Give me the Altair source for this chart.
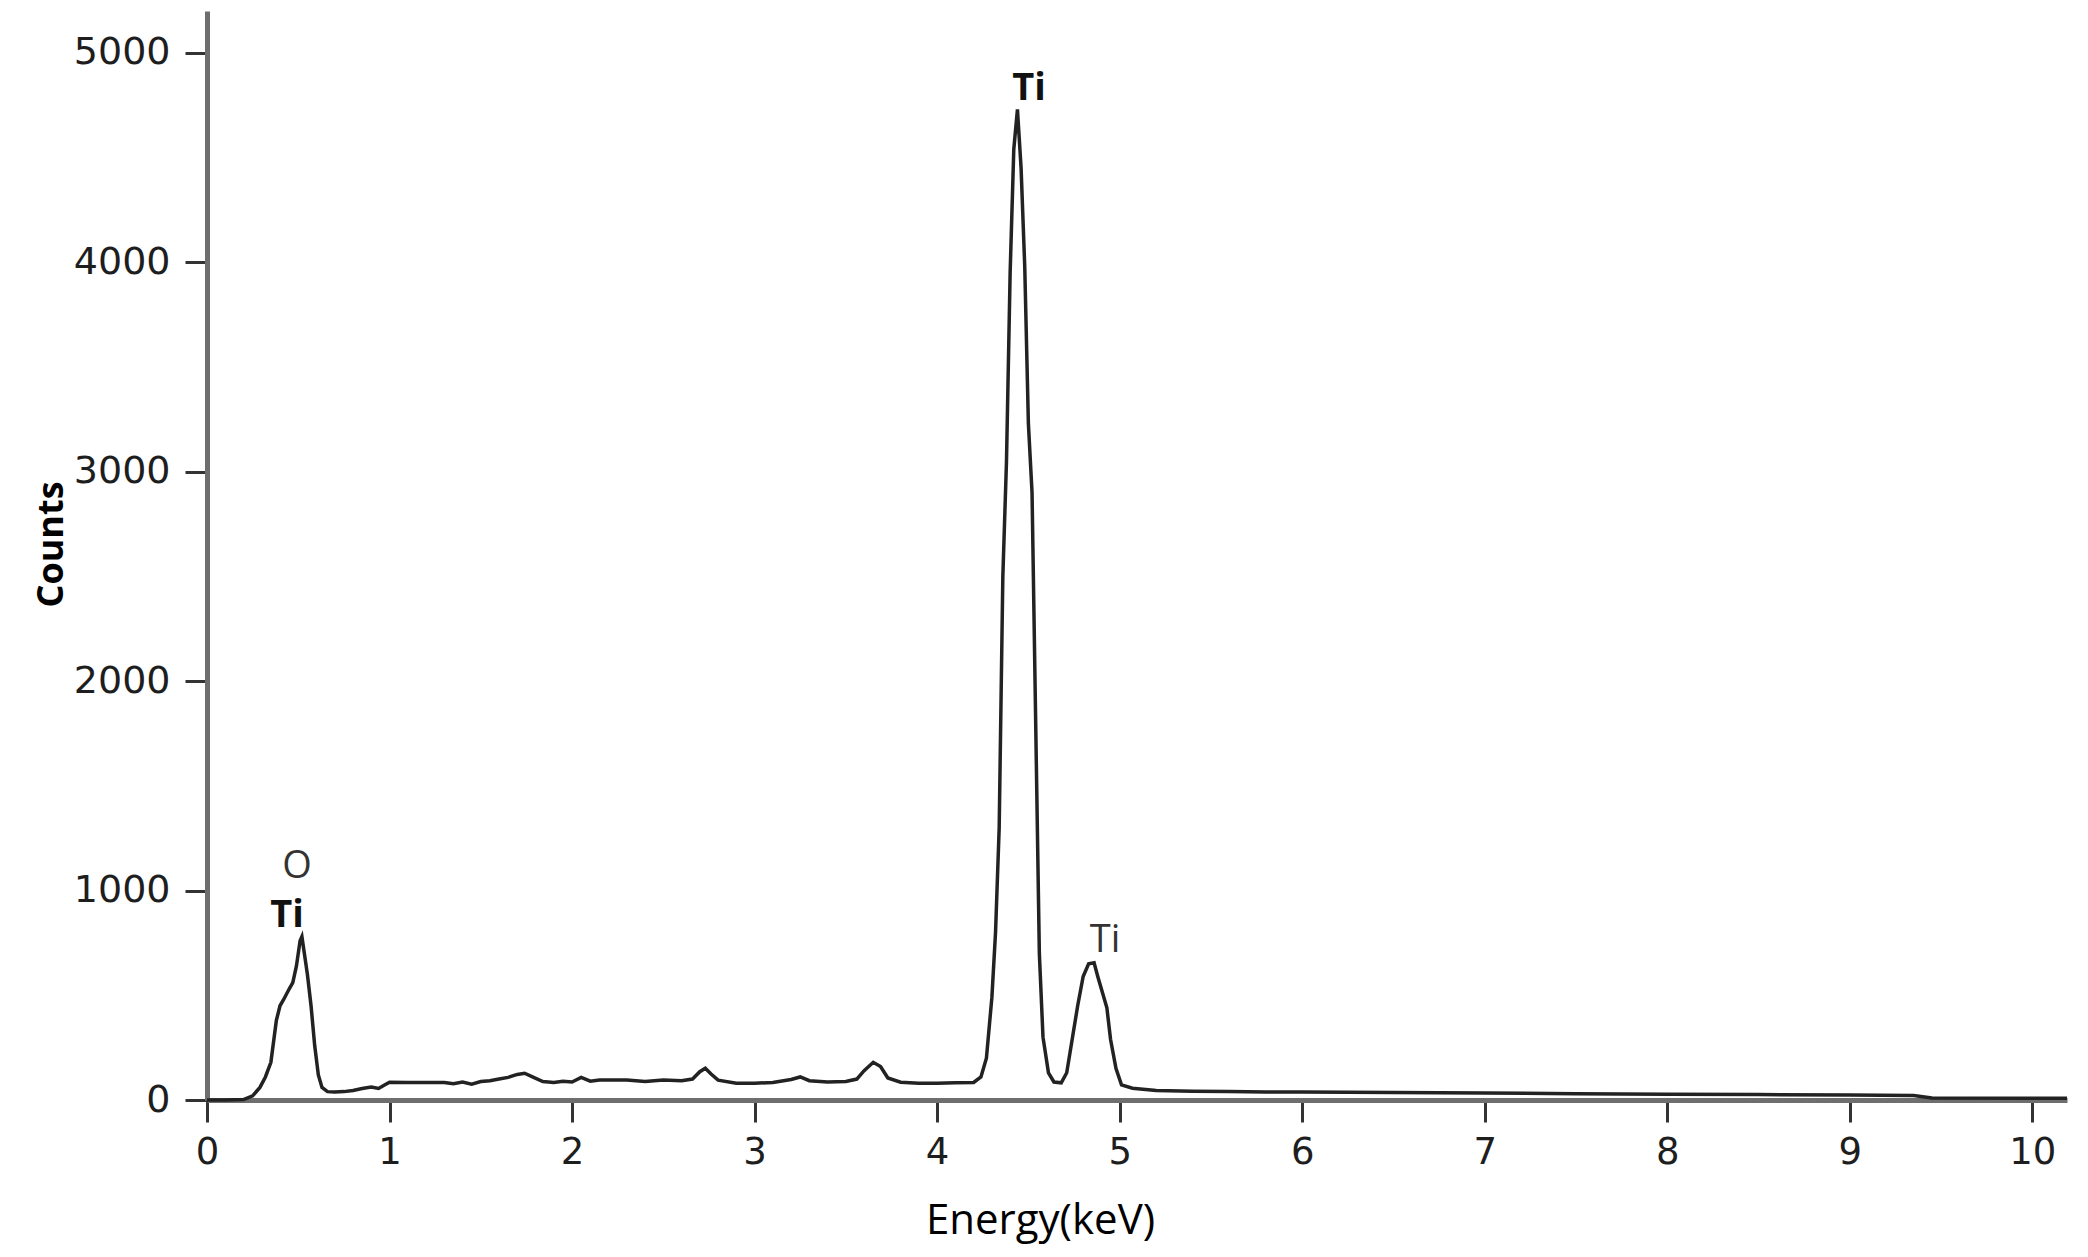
import altair as alt
import pandas as pd

# Spectrum values
energy_kev = [0.00, 0.10, 0.20, 0.25, 0.29, 0.32, 0.35, 0.38, 0.40, 0.42, 0.45, 0.47, 0.49, 0.51, 0.52,
              0.53, 0.55, 0.57, 0.59, 0.61, 0.63, 0.66, 0.70, 0.75, 0.80, 0.85, 0.90, 0.94, 0.97, 1.00,
              1.10, 1.20, 1.30, 1.35, 1.40, 1.45, 1.50, 1.55, 1.60, 1.65, 1.70, 1.74, 1.78, 1.84, 1.90,
              1.95, 2.00, 2.05, 2.10, 2.15, 2.20, 2.30, 2.40, 2.50, 2.60, 2.66, 2.70, 2.73, 2.76, 2.80,
              2.90, 3.00, 3.10, 3.20, 3.25, 3.30, 3.40, 3.50, 3.56, 3.60, 3.65, 3.69, 3.73, 3.80, 3.90,
              4.00, 4.10, 4.20, 4.24, 4.27, 4.30, 4.32, 4.34, 4.36, 4.38, 4.40, 4.42, 4.44, 4.46, 4.48,
              4.50, 4.52, 4.54, 4.56, 4.58, 4.61, 4.64, 4.68, 4.71, 4.74, 4.77, 4.80, 4.83, 4.86, 4.88,
              4.91, 4.93, 4.95, 4.98, 5.01, 5.07, 5.20, 5.40, 5.60, 5.80, 6.00, 6.50, 7.00, 7.50, 8.00,
              8.50, 9.00, 9.35, 9.45, 10.00, 10.19]
counts = [0, 0, 2, 20, 60, 110, 180, 380, 450, 480, 530, 560, 640, 760, 780,
          720, 600, 450, 260, 120, 60, 40, 38, 40, 45, 55, 62, 55, 70, 85,
          84, 84, 84, 78, 86, 76, 88, 92, 100, 108, 122, 128, 112, 88, 84,
          90, 86, 108, 90, 96, 95, 95, 88, 95, 92, 100, 135, 152, 125, 95,
          80, 80, 84, 98, 110, 92, 86, 88, 100, 140, 180, 160, 105, 85, 80,
          80, 82, 84, 110, 200, 490, 800, 1300, 2500, 3050, 3950, 4540, 4730, 4450, 3980,
          3230, 2900, 1800, 700, 300, 130, 86, 82, 130, 290, 450, 590, 650, 655, 590,
          500, 440, 290, 150, 72, 56, 45, 42, 40, 38, 38, 36, 34, 30, 28,
          26, 24, 22, 10, 8, 8]

# Peak labels
bold_labels = ["Ti", "Ti"]
bold_x = [0.438, 4.504]
bold_y = [826, 4775]
plain_labels = ["O", "Ti"]
plain_x = [0.493, 4.92]
plain_y = [1060, 707]

x_ticks = [0, 1, 2, 3, 4, 5, 6, 7, 8, 9, 10]
y_ticks = [0, 1000, 2000, 3000, 4000, 5000]

spec = pd.DataFrame({"energy": energy_kev, "counts": counts})
bold_df = pd.DataFrame({"energy": bold_x, "counts": bold_y, "label": bold_labels})
plain_df = pd.DataFrame({"energy": plain_x, "counts": plain_y, "label": plain_labels})

W, H = 1860, 1089
x_scale = alt.Scale(domain=[0, 10.19], nice=False, zero=False)
y_scale = alt.Scale(domain=[0, 5200], nice=False)

x_axis = alt.Axis(values=x_ticks, title="Energy(keV)", grid=False, format="d",
                  domainColor="#6e6e6e", domainWidth=5,
                  tickColor="#333333", tickWidth=3, tickSize=22,
                  labelFont="DejaVu Sans", labelFontSize=37, labelColor="#1e1e1e",
                  labelPadding=12, labelFlush=False,
                  titleFont="Open Sans", titleFontSize=42, titleFontWeight="normal",
                  titleColor="#000000", titleX=833, titleY=133, titleAlign="center",
                  titleBaseline="alphabetic")
y_axis = alt.Axis(values=y_ticks, title="Counts", grid=False, format="d",
                  domainColor="#6e6e6e", domainWidth=5,
                  tickColor="#333333", tickWidth=3, tickSize=22,
                  labelFont="DejaVu Sans", labelFontSize=38, labelColor="#1e1e1e",
                  labelPadding=15, labelFlush=False,
                  titleFont="Open Sans", titleFontSize=36, titleFontWeight="bold",
                  titleColor="#000000", titleAngle=270, titleX=-145, titleY=533,
                  titleAlign="center", titleBaseline="alphabetic")

line = alt.Chart(spec).mark_line(color="#222222", strokeWidth=3.5).encode(
    x=alt.X("energy:Q", scale=x_scale, axis=x_axis),
    y=alt.Y("counts:Q", scale=y_scale, axis=y_axis),
)

bold_text = alt.Chart(bold_df).mark_text(font="Open Sans", fontSize=38, fontWeight="bold",
                                         color="#111111", align="center",
                                         baseline="alphabetic").encode(
    x=alt.X("energy:Q", scale=x_scale),
    y=alt.Y("counts:Q", scale=y_scale),
    text="label:N",
)
plain_text = alt.Chart(plain_df).mark_text(font="Open Sans", fontSize=38, fontWeight="normal",
                                           color="#333333", align="center",
                                           baseline="alphabetic").encode(
    x=alt.X("energy:Q", scale=x_scale),
    y=alt.Y("counts:Q", scale=y_scale),
    text="label:N",
)

chart = (line + bold_text + plain_text).properties(
    width=W, height=H,
    autosize=alt.AutoSizeParams(type="none"),
    padding={"left": 199, "top": 3, "right": 8, "bottom": 145},
    background="white",
).configure_view(stroke="transparent")

chart.save("out.html", embed_options={"renderer": "svg", "actions": False})
